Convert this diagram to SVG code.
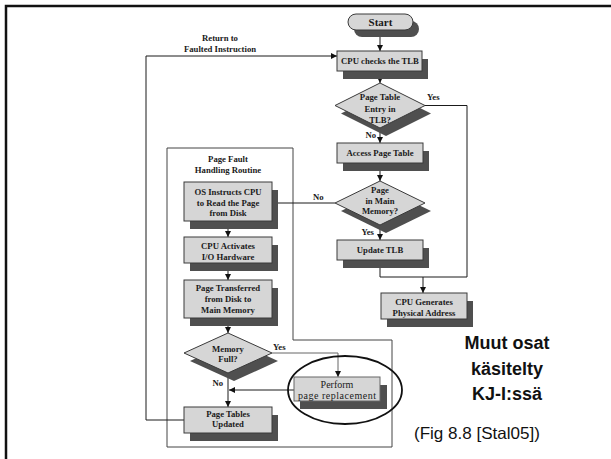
<svg xmlns="http://www.w3.org/2000/svg" width="611" height="459" viewBox="0 0 611 459">
<defs>
<marker id="arr" markerWidth="6" markerHeight="6" refX="6" refY="3" orient="auto" markerUnits="userSpaceOnUse">
<path d="M0,0 L6,3 L0,6 z" fill="#111"/>
</marker>
<style>
.box{fill:#d6d6d6;stroke:#3a3a3a;stroke-width:1}
.sh{fill:#4f4f4f}
.t{font-family:"Liberation Serif","Times New Roman",serif;font-weight:bold;font-size:8.7px;fill:#1a1a1a;text-anchor:middle}
.lbl{font-family:"Liberation Serif","Times New Roman",serif;font-weight:bold;font-size:8.7px;fill:#1a1a1a}
.tr{font-family:"Liberation Serif","Times New Roman",serif;font-size:10px;fill:#1a1a1a;text-anchor:middle}
.c{fill:none;stroke:#1a1a1a;stroke-width:1}
.ca{fill:none;stroke:#1a1a1a;stroke-width:1;marker-end:url(#arr)}
.reg{fill:none;stroke:#444;stroke-width:1}
.big{font-family:"Liberation Sans",Arial,sans-serif;font-weight:bold;font-size:18px;fill:#111;text-anchor:middle}
.note{font-family:"Liberation Sans",Arial,sans-serif;font-size:16.5px;fill:#111}
</style>
</defs>
<rect x="0" y="0" width="611" height="459" fill="#fff"/>
<path d="M6,459 V6 H611" fill="none" stroke="#111" stroke-width="2.5"/>

<g id="region">
<path class="reg" d="M167,148 H293 V340 H392 V447 H167 Z"/>
<text class="t" x="228" y="162">Page Fault</text>
<text class="t" x="228" y="173">Handling Routine</text>
</g>

<g id="connectors">
<path class="ca" d="M380,30 V51"/>
<path class="ca" d="M380,71 V83"/>
<path class="ca" d="M380,128 V143"/>
<path class="ca" d="M380,163 V181"/>
<path class="ca" d="M335,203 H272"/>
<path class="ca" d="M380,225 V240"/>
<path class="c" d="M425,105.5 H467 V277"/>
<path class="c" d="M380,260 V277 H467"/>
<path class="ca" d="M423,277 V293"/>
<path class="ca" d="M228,221 V237"/>
<path class="ca" d="M228,263 V280"/>
<path class="ca" d="M228,318 V333"/>
<path class="ca" d="M228,373 V407"/>
<path class="ca" d="M272,353 H338 V377" style="stroke:#666"/>
<path class="ca" d="M294,390 H229"/>
<path class="ca" d="M184,420 H146 V56 H337"/>
<text class="lbl" x="220" y="41" text-anchor="middle">Return to</text>
<text class="lbl" x="220" y="52" text-anchor="middle">Faulted Instruction</text>
<text class="lbl" x="427" y="100">Yes</text>
<text class="lbl" x="376" y="138" text-anchor="end">No</text>
<text class="lbl" x="313" y="200">No</text>
<text class="lbl" x="374" y="235" text-anchor="end">Yes</text>
<text class="lbl" x="273" y="350">Yes</text>
<text class="lbl" x="223" y="386" text-anchor="end">No</text>
</g>

<g id="start">
<rect class="sh" x="354" y="21" width="65" height="16" rx="8"/>
<rect class="box" x="348" y="14" width="65" height="16" rx="8"/>
<text class="t" x="380.5" y="26" style="font-size:11px">Start</text>
</g>

<g id="cpu-checks">
<rect class="sh" x="343" y="59" width="85" height="20"/>
<rect class="box" x="337" y="51" width="85" height="20"/>
<text class="t" x="380" y="64">CPU checks the TLB</text>
</g>

<g id="tlb-decision">
<polygon class="sh" points="386,91 431,113.5 386,136 341,113.5"/>
<polygon class="box" points="380,83 425,105.5 380,128 335,105.5"/>
<text class="t" x="380" y="100">Page Table</text>
<text class="t" x="380" y="111.5">Entry in</text>
<text class="t" x="380" y="123">TLB?</text>
</g>

<g id="access-page-table">
<rect class="sh" x="343" y="151" width="86" height="20"/>
<rect class="box" x="337" y="143" width="86" height="20"/>
<text class="t" x="380" y="156">Access Page Table</text>
</g>

<g id="memory-decision">
<polygon class="sh" points="386,189 431,211 386,233 341,211"/>
<polygon class="box" points="380,181 425,203 380,225 335,203"/>
<text class="t" x="380" y="193">Page</text>
<text class="t" x="380" y="203.5">in Main</text>
<text class="t" x="380" y="214">Memory?</text>
</g>

<g id="update-tlb">
<rect class="sh" x="343" y="248" width="86" height="20"/>
<rect class="box" x="337" y="240" width="86" height="20"/>
<text class="t" x="380" y="253">Update TLB</text>
</g>

<g id="cpu-generates">
<rect class="sh" x="387" y="301" width="86" height="26"/>
<rect class="box" x="381" y="293" width="86" height="26"/>
<text class="t" x="424" y="305">CPU Generates</text>
<text class="t" x="424" y="316">Physical Address</text>
</g>

<g id="os-instructs">
<rect class="sh" x="190" y="190" width="88" height="39"/>
<rect class="box" x="184" y="182" width="88" height="39"/>
<text class="t" x="228" y="195">OS Instructs CPU</text>
<text class="t" x="228" y="205.5">to Read the Page</text>
<text class="t" x="228" y="216">from Disk</text>
</g>

<g id="cpu-activates">
<rect class="sh" x="190" y="245" width="88" height="26"/>
<rect class="box" x="184" y="237" width="88" height="26"/>
<text class="t" x="228" y="249">CPU Activates</text>
<text class="t" x="228" y="259.5">I/O Hardware</text>
</g>

<g id="page-transferred">
<rect class="sh" x="190" y="288" width="88" height="38"/>
<rect class="box" x="184" y="280" width="88" height="38"/>
<text class="t" x="228" y="291">Page Transferred</text>
<text class="t" x="228" y="302">from Disk to</text>
<text class="t" x="228" y="313">Main Memory</text>
</g>

<g id="memory-full">
<polygon class="sh" points="234,341 278,361 234,381 190,361"/>
<polygon class="box" points="228,333 272,353 228,373 184,353"/>
<text class="t" x="228" y="352">Memory</text>
<text class="t" x="228" y="362">Full?</text>
</g>

<g id="perform-replacement">
<rect class="sh" x="300" y="385" width="87" height="24"/>
<rect class="box" x="294" y="377" width="86" height="24" style="stroke:#666"/>
<text class="tr" x="337" y="388">Perform</text>
<text class="tr" x="337" y="399" textLength="78" lengthAdjust="spacing">page replacement</text>
<ellipse cx="345" cy="390" rx="57" ry="34" fill="none" stroke="#111" stroke-width="1.8"/>
</g>

<g id="page-tables-updated">
<rect class="sh" x="190" y="415" width="88" height="26"/>
<rect class="box" x="184" y="407" width="88" height="26"/>
<text class="t" x="228" y="416.5">Page Tables</text>
<text class="t" x="228" y="427">Updated</text>
</g>

<g id="notes">
<text class="big" x="507" y="349">Muut osat</text>
<text class="big" x="507" y="375">käsitelty</text>
<text class="big" x="507" y="400">KJ-I:ssä</text>
<text class="note" x="414" y="439" textLength="126" lengthAdjust="spacingAndGlyphs">(Fig 8.8 [Stal05])</text>
</g>
</svg>
